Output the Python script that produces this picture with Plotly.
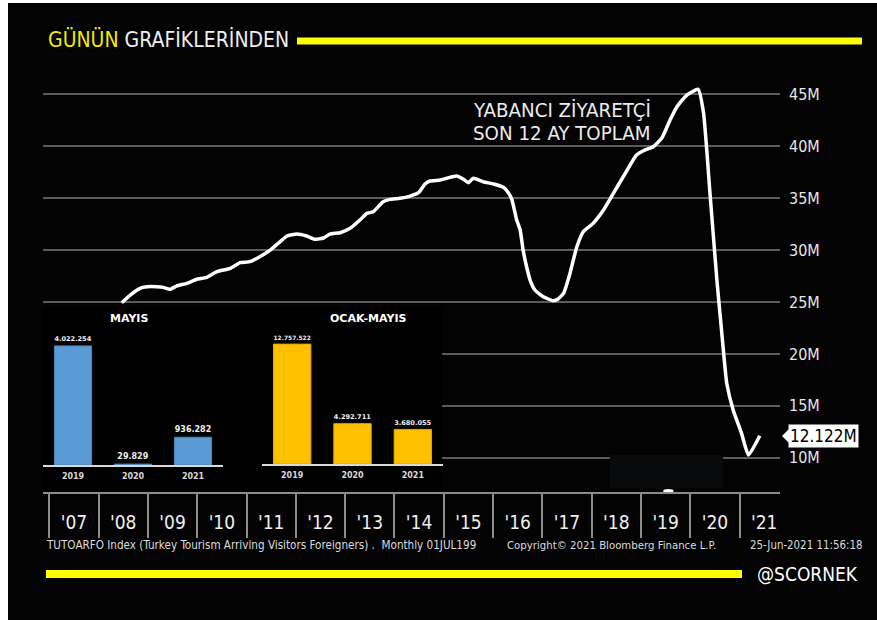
import plotly.graph_objects as go

W, H = 877, 620

# ---- main series: 12-month rolling total of foreign visitors (millions)
years = [2008.47, 2008.64, 2008.84, 2008.98, 2009.18, 2009.31, 2009.45, 2009.58, 2009.79, 2009.99,
         2010.19, 2010.40, 2010.67, 2010.87, 2011.07, 2011.27, 2011.48, 2011.68, 2011.82, 2012.02,
         2012.22, 2012.39, 2012.56, 2012.69, 2012.90, 2013.10, 2013.30, 2013.44, 2013.57, 2013.77,
         2013.91, 2014.11, 2014.32, 2014.49, 2014.62, 2014.72, 2014.93, 2015.06, 2015.26, 2015.40,
         2015.50, 2015.60, 2015.80, 2016.01, 2016.21, 2016.30, 2016.38, 2016.48, 2016.55, 2016.61,
         2016.68, 2016.76, 2016.85, 2017.02, 2017.22, 2017.32, 2017.43, 2017.56, 2017.70, 2017.83,
         2018.03, 2018.24, 2018.44, 2018.64, 2018.91, 2019.05, 2019.25, 2019.42, 2019.59, 2019.73,
         2019.93, 2020.16, 2020.27, 2020.40, 2020.54, 2020.64, 2020.74, 2020.87, 2021.04,
         2021.18, 2021.41]
visitors_m = [24.93, 25.67, 26.32, 26.47, 26.47, 26.41, 26.22, 26.54, 26.80, 27.19,
              27.38, 27.92, 28.25, 28.79, 28.89, 29.37, 30.00, 30.81, 31.36, 31.55,
              31.36, 31.04, 31.17, 31.55, 31.68, 32.10, 32.90, 33.54, 33.70, 34.66,
              34.89, 34.99, 35.21, 35.53, 36.37, 36.66, 36.75, 36.92, 37.14, 36.82,
              36.49, 36.92, 36.59, 36.37, 36.05, 35.60, 34.90, 32.90, 31.94, 30.00,
              28.40, 27.00, 26.16, 25.51, 25.13, 25.30, 25.84, 27.76, 30.33, 31.77,
              32.58, 33.86, 35.47, 37.07, 39.16, 39.58, 39.96, 40.77, 42.53, 43.81,
              44.94, 45.49, 43.18, 35.47, 27.12, 21.98, 17.17, 14.60, 12.35,
              10.26, 12.122]
last_value_label = "12.122M"

y_ticks = [10, 15, 20, 25, 30, 35, 40, 45]
y_ticktext = [f"{v}M" for v in y_ticks]
year_starts = list(range(2007, 2022))
year_labels = ["'07", "'08", "'09", "'10", "'11", "'12", "'13", "'14", "'15",
               "'16", "'17", "'18", "'19", "'20", "'21"]

# ---- inset bars
bar_years = ["2019", "2020", "2021"]
mayis = [4022254, 29829, 936282]
ocak_mayis = [12757522, 4292711, 3680055]


def tr_fmt(v):
    return f"{v:,}".replace(",", ".")


FONT = "DejaVu Sans Condensed, Liberation Sans Narrow, Roboto Condensed, Roboto, sans-serif"
BOLD = "Verdana, DejaVu Sans, sans-serif"


def px_x(p):
    return p / W


def px_y(p):
    return 1 - p / H


fig = go.Figure()

fig.add_trace(go.Scatter(
    x=years, y=visitors_m, mode="lines",
    line=dict(color="#ffffff", width=3.5, shape="spline", smoothing=0.45),
    hoverinfo="skip", showlegend=False, xaxis="x", yaxis="y"))

fig.add_trace(go.Bar(
    x=bar_years, y=mayis, text=[f"<b>{tr_fmt(v)}</b>" for v in mayis], textposition="outside",
    textfont=dict(color="#f0f0f0", size=8, family=BOLD), cliponaxis=False,
    marker=dict(color="#5b9bd5", line=dict(color="#4a86bd", width=1)),
    width=0.62, showlegend=False, hoverinfo="skip", xaxis="x2", yaxis="y2"))

fig.add_trace(go.Bar(
    x=bar_years, y=ocak_mayis, text=[f"<b>{tr_fmt(v)}</b>" for v in ocak_mayis], textposition="outside",
    textfont=dict(color="#f0f0f0", size=8, family=BOLD), cliponaxis=False,
    marker=dict(color="#ffc000", line=dict(color="#e0a800", width=1)),
    width=0.62, showlegend=False, hoverinfo="skip", xaxis="x3", yaxis="y3"))

main_x_dom = [px_x(43), px_x(780)]
main_y_dom = [px_y(492), px_y(80)]

shapes = [
    # outer dark frame (white strip on left/top like the screenshot)
    dict(type="rect", xref="paper", yref="paper", x0=px_x(8), x1=1, y0=0, y1=px_y(3),
         fillcolor="#030304", line=dict(width=0), layer="below"),
    # yellow bars
    dict(type="rect", xref="paper", yref="paper", x0=px_x(297), x1=px_x(862),
         y0=px_y(44.5), y1=px_y(37.5), fillcolor="#ffff00", line=dict(width=0), layer="above"),
    dict(type="rect", xref="paper", yref="paper", x0=px_x(46), x1=px_x(742),
         y0=px_y(578), y1=px_y(570), fillcolor="#ffff00", line=dict(width=0), layer="above"),
    # pointer of last-value tag
    dict(type="path", xref="paper", yref="paper",
         path=f"M {px_x(782)} {px_y(436)} L {px_x(789)} {px_y(429)} L {px_x(789)} {px_y(443)} Z",
         fillcolor="#ffffff", line=dict(width=0), layer="above"),
    # inset panel hiding the grid under the bar charts
    dict(type="rect", xref="x", yref="y", x0=2006.85, x1=2014.9655, y0=6.888, y1=24.61,
         fillcolor="#000000", line=dict(width=0), layer="between"),
    # dark patch over the 10M grid line
    dict(type="rect", xref="x", yref="y", x0=2018.369, x1=2020.665, y0=7.081, y1=10.26,
         fillcolor="#090a0c", line=dict(width=0), layer="between"),
    # small white blip on axis
    dict(type="circle", xref="x", yref="y", x0=2019.45, x1=2019.66, y0=6.62, y1=6.98,
         fillcolor="#ffffff", line=dict(width=0), layer="above"),
]

annotations = [
    dict(xref="paper", yref="paper", x=px_x(46), y=px_y(40), xanchor="left", yanchor="middle",
         text="<span style='color:#f2ea00'>GÜNÜN</span> GRAFİKLERİNDEN", showarrow=False,
         font=dict(family=FONT, size=21, color="#f0f0f0")),
    dict(xref="paper", yref="paper", x=px_x(471), y=px_y(110), xanchor="left", yanchor="middle",
         text="YABANCI ZİYARETÇİ", showarrow=False,
         font=dict(family=FONT, size=20.3, color="#ececec")),
    dict(xref="paper", yref="paper", x=px_x(471), y=px_y(133), xanchor="left", yanchor="middle",
         text="SON 12 AY TOPLAM", showarrow=False,
         font=dict(family=FONT, size=20.3, color="#ececec")),
    dict(xref="paper", yref="y", x=px_x(788), y=visitors_m[-1], xanchor="left", yanchor="middle",
         text=last_value_label, showarrow=False, bgcolor="#ffffff", borderpad=1,
         font=dict(family=FONT, size=17, color="#000000")),
    dict(xref="paper", yref="paper", x=px_x(129), y=px_y(318), xanchor="center", yanchor="middle",
         text="<b>MAYIS</b>", showarrow=False, font=dict(family=BOLD, size=11, color="#ffffff")),
    dict(xref="paper", yref="paper", x=px_x(368), y=px_y(318), xanchor="center", yanchor="middle",
         text="<b>OCAK-MAYIS</b>", showarrow=False, font=dict(family=BOLD, size=11, color="#ffffff")),
    dict(xref="paper", yref="paper", x=px_x(44), y=px_y(545), xanchor="left", yanchor="middle",
         text="TUTOARFO Index (Turkey Tourism Arriving Visitors Foreigners) .  Monthly 01JUL199",
         showarrow=False, font=dict(family=FONT, size=11.6, color="#dcdcdc")),
    dict(xref="paper", yref="paper", x=px_x(505), y=px_y(545), xanchor="left", yanchor="middle",
         text="Copyright© 2021 Bloomberg Finance L.P.", showarrow=False,
         font=dict(family=FONT, size=11.3, color="#dcdcdc")),
    dict(xref="paper", yref="paper", x=px_x(748), y=px_y(545), xanchor="left", yanchor="middle",
         text="25-Jun-2021 11:56:18", showarrow=False, font=dict(family=FONT, size=11.4, color="#dcdcdc")),
    dict(xref="paper", yref="paper", x=px_x(755), y=px_y(574), xanchor="left", yanchor="middle",
         text="@SCORNEK", showarrow=False, font=dict(family=FONT, size=19, color="#ffffff")),
]

fig.update_layout(
    width=W, height=H, margin=dict(l=0, r=0, t=0, b=0),
    paper_bgcolor="#ffffff", plot_bgcolor="rgba(0,0,0,0)",
    showlegend=False, shapes=shapes, annotations=annotations,
    xaxis=dict(domain=main_x_dom, range=[2006.872, 2021.82], showgrid=False, zeroline=False,
               tickmode="array", tickvals=[y + 0.5 for y in year_starts], ticktext=year_labels,
               ticks="", ticklabelstandoff=12,
               tickfont=dict(family=FONT, size=19, color="#f0f0f0"),
               showline=True, linecolor="#8c8c8c", linewidth=2,
               minor=dict(tickmode="array", tickvals=year_starts, ticks="outside", ticklen=44,
                          tickcolor="#8c8c8c", tickwidth=1.5, showgrid=False)),
    yaxis=dict(domain=main_y_dom, range=[6.70, 46.39], side="right", zeroline=False,
               tickmode="array", tickvals=y_ticks, ticktext=y_ticktext, ticks="",
               ticklabelstandoff=8, showgrid=True, gridcolor="#5c5c5c", gridwidth=1.5,
               tickfont=dict(family=FONT, size=16, color="#e6e6e6"), showline=False),
    xaxis2=dict(domain=[px_x(43), px_x(223)], anchor="y2", showgrid=False, zeroline=False,
                showline=True, linecolor="#d9d9d9", linewidth=2, ticks="",
                tickmode="array", tickvals=bar_years, ticktext=[f"<b>{c}</b>" for c in bar_years],
                tickfont=dict(family=BOLD, size=8, color="#d9d9d9"), ticklabelstandoff=2),
    yaxis2=dict(domain=[px_y(465), px_y(330)], anchor="x2", range=[0, 4.56e6], visible=False),
    xaxis3=dict(domain=[px_x(262), px_x(443)], anchor="y3", showgrid=False, zeroline=False,
                showline=True, linecolor="#d9d9d9", linewidth=2, ticks="",
                tickmode="array", tickvals=bar_years, ticktext=[f"<b>{c}</b>" for c in bar_years],
                tickfont=dict(family=BOLD, size=8, color="#d9d9d9"), ticklabelstandoff=2),
    yaxis3=dict(domain=[px_y(464), px_y(330)], anchor="x3", range=[0, 14.26e6], visible=False),
    bargap=0.38,
)

fig.write_html("out.html", config={"displayModeBar": False},
               post_script="document.body.style.margin='0px';")
